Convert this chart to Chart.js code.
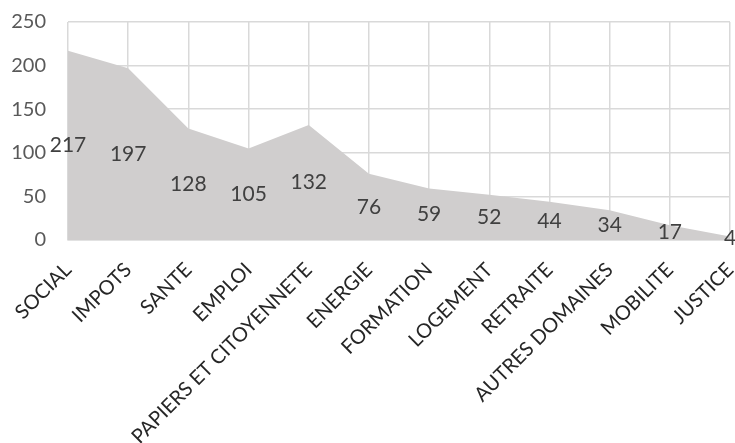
<!DOCTYPE html>
<html>
<head>
<meta charset="utf-8">
<script src="https://cdn.jsdelivr.net/npm/chart.js@4"></script>
<style>
  html, body { margin: 0; padding: 0; background: #fff; }
  #wrap { width: 735px; height: 443px; }
</style>
</head>
<body>
<div id="wrap"><canvas id="chart"></canvas></div>
<script>
// categories and counts
const domaines = ["SOCIAL", "IMPOTS", "SANTE", "EMPLOI", "PAPIERS ET CITOYENNETE",
    "ENERGIE", "FORMATION", "LOGEMENT", "RETRAITE", "AUTRES DOMAINES", "MOBILITE", "JUSTICE"]
const demandes = [217, 197, 128, 105, 132, 76, 59, 52, 44, 34, 17, 4]
const yTicks = [0, 50, 100, 150, 200, 250]

const fontName = "Lato, 'Open Sans', sans-serif"

// labels drawn at half height of the area, like the original
const midLabels = {
    id: 'midLabels',
    afterDatasetsDraw(chart) {
        let ctx = chart.ctx
        let xs = chart.scales.x
        let ys = chart.scales.y
        ctx.save()
        ctx.font = "21px " + fontName
        ctx.fillStyle = "#404040"
        ctx.textAlign = "center"
        ctx.textBaseline = "middle"
        demandes.forEach((v, i) => {
            ctx.fillText(String(v), xs.getPixelForValue(i), ys.getPixelForValue(v / 2))
        })
        ctx.restore()
    }
}

let ctx = document.getElementById("chart")
let chart = new Chart(ctx, {
    type: 'line',
    data: {
        labels: domaines,
        datasets: [{
            data: demandes,
            fill: 'origin',
            backgroundColor: '#d0cece',
            borderWidth: 0,
            pointRadius: 0,
            tension: 0
        }]
    },
    options: {
        responsive: true,
        maintainAspectRatio: false,
        animation: false,
        layout: { padding: { top: 22, right: 5, left: 0, bottom: 0 } },
        plugins: {
            legend: { display: false },
            tooltip: { enabled: false }
        },
        scales: {
            x: {
                offset: false,
                grid: { color: '#d9d9d9', lineWidth: 1.5, drawTicks: false },
                border: { color: '#d9d9d9', width: 1.5 },
                ticks: {
                    autoSkip: false,
                    maxRotation: 45,
                    minRotation: 45,
                    padding: 18,
                    color: '#262626',
                    font: { family: fontName, size: 20 }
                },
                afterFit: function(scale) {
                    scale.height = 203
                    scale.paddingLeft = 0
                    scale.paddingRight = 0
                    scale.paddingTop = 0
                    scale.paddingBottom = 0
                }
            },
            y: {
                min: 0,
                max: 250,
                afterBuildTicks: function(scale) {
                    scale.ticks = yTicks.map(v => ({ value: v }))
                },
                grid: { color: '#d9d9d9', lineWidth: 1.5, drawTicks: false },
                border: { display: false },
                ticks: {
                    padding: 22,
                    color: '#595959',
                    font: { family: fontName, size: 20 }
                },
                afterFit: function(scale) {
                    scale.width = 68
                    scale.paddingTop = 0
                    scale.paddingBottom = 0
                }
            }
        }
    },
    plugins: [midLabels]
})
</script>
</body>
</html>
